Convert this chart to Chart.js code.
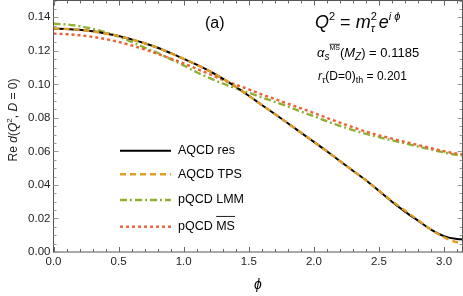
<!DOCTYPE html>
<html>
<head>
<meta charset="utf-8">
<script src="https://cdn.jsdelivr.net/npm/chart.js@4/dist/chart.umd.min.js"></script>
<style>
  html, body { margin: 0; padding: 0; background: #fff; }
  #wrap { width: 463px; height: 296px; position: relative; }
</style>
</head>
<body>
<div id="wrap"><canvas id="c" width="463" height="296"></canvas></div>
<script>
// ---- data ----
const phi = [0.0, 0.1, 0.2, 0.3, 0.4, 0.5, 0.6, 0.7, 0.8, 0.9, 1.0, 1.1, 1.2, 1.3, 1.4, 1.5,
             1.6, 1.7, 1.8, 1.9, 2.0, 2.1, 2.2, 2.3, 2.4, 2.5, 2.6, 2.7, 2.8, 2.9, 3.0, 3.1, 3.1416];

const aqcdRes = [0.1332, 0.1330, 0.1325, 0.1316, 0.1303, 0.1288, 0.1268, 0.1245, 0.1218, 0.1186,
                 0.1152, 0.1117, 0.1078, 0.1034, 0.0985, 0.0932, 0.0877, 0.0823, 0.0768, 0.0712,
                 0.0657, 0.0601, 0.0543, 0.0485, 0.0428, 0.0364, 0.0300, 0.0241, 0.0187, 0.0134,
                 0.0095, 0.0077, 0.0075];

const aqcdTPS = [0.1332, 0.1330, 0.1325, 0.1316, 0.1303, 0.1288, 0.1268, 0.1245, 0.1218, 0.1186,
                 0.1152, 0.1117, 0.1078, 0.1034, 0.0985, 0.0932, 0.0877, 0.0823, 0.0768, 0.0712,
                 0.0657, 0.0601, 0.0543, 0.0485, 0.0428, 0.0365, 0.0304, 0.0247, 0.0190, 0.0133,
                 0.0088, 0.0058, 0.0054];

const pqcdLMM = [0.1361, 0.1357, 0.1347, 0.1331, 0.1311, 0.1285, 0.1253, 0.1219, 0.1187, 0.1150,
                 0.1113, 0.1072, 0.1037, 0.1005, 0.0976, 0.0950, 0.0922, 0.0895, 0.0868, 0.0838,
                 0.0810, 0.0780, 0.0752, 0.0727, 0.0705, 0.0685, 0.0666, 0.0648, 0.0629, 0.0611,
                 0.0594, 0.0579, 0.0576];

const pqcdMSbar = [0.1302, 0.1299, 0.1293, 0.1283, 0.1270, 0.1253, 0.1232, 0.1208, 0.1182, 0.1154,
                   0.1125, 0.1093, 0.1060, 0.1027, 0.0998, 0.0970, 0.0940, 0.0912, 0.0885, 0.0857,
                   0.0829, 0.0800, 0.0771, 0.0744, 0.0718, 0.0696, 0.0676, 0.0657, 0.0638, 0.0619,
                   0.0601, 0.0586, 0.0582];

const seriesNames = ["AQCD res", "AQCD TPS", "pQCD LMM", "pQCD MS"];
const xTickValues = [0.0, 0.5, 1.0, 1.5, 2.0, 2.5, 3.0];
const xTickLabels = ["0.0", "0.5", "1.0", "1.5", "2.0", "2.5", "3.0"];
const yTickValues = [0.00, 0.02, 0.04, 0.06, 0.08, 0.10, 0.12, 0.14];
const yTickLabels = ["0.00", "0.02", "0.04", "0.06", "0.08", "0.10", "0.12", "0.14"];

// ---- helpers ----
const FONT = '"Liberation Sans", Arial, Helvetica, sans-serif';
const PHI = '\u03D5';
function pts(ys) { return phi.map((x, i) => ({ x: x, y: ys[i] })); }

// draw rich text segments: {t, it, size, dy, over}
function rich(ctx, x, y, segs, baseSize) {
  let cx = x;
  for (const s of segs) {
    const sz = s.size || baseSize;
    ctx.font = (s.it ? 'italic ' : '') + sz + 'px ' + FONT;
    const w = ctx.measureText(s.t).width;
    ctx.fillText(s.t, cx, y + (s.dy || 0));
    if (s.over) {
      ctx.save();
      ctx.lineWidth = Math.max(0.8, sz / 14);
      ctx.strokeStyle = ctx.fillStyle;
      const oy = y + (s.dy || 0) - sz * 0.82;
      ctx.beginPath(); ctx.moveTo(cx, oy); ctx.lineTo(cx + w, oy); ctx.stroke();
      ctx.restore();
    }
    cx += w + (s.gap || 0);
  }
  return cx;
}

const styles = [
  { color: '#000000', dash: [], width: 2.0 },
  { color: '#E19C24', dash: [6, 4], width: 2.4 },
  { color: '#8FB032', dash: [7, 3, 2, 3], width: 2.4 },
  { color: '#EB6235', dash: [3, 3], width: 2.4 }
];

const framePlugin = {
  id: 'frame',
  afterDraw(chart) {
    const ctx = chart.ctx;
    const a = chart.chartArea;
    const xs = chart.scales.x, ys = chart.scales.y;
    ctx.save();
    // frame
    ctx.strokeStyle = '#555';
    ctx.lineWidth = 1;
    ctx.strokeRect(a.left, a.top, a.right - a.left, a.bottom - a.top);
    // x ticks (bottom & top)
    ctx.strokeStyle = '#666';
    for (let i = 0; i <= 31; i++) {
      const v = i / 10;
      const px = Math.round(xs.getPixelForValue(v)) + 0.5;
      const len = (i % 5 === 0) ? 5 : 3;
      ctx.beginPath();
      ctx.moveTo(px, a.bottom); ctx.lineTo(px, a.bottom - len);
      ctx.moveTo(px, a.top); ctx.lineTo(px, a.top + len);
      ctx.stroke();
    }
    // y ticks (left & right)
    ctx.strokeStyle = '#999';
    for (let i = 0; i <= 30; i++) {
      const v = i * 0.005;
      const py = Math.round(ys.getPixelForValue(v)) + 0.5;
      const len = (i % 4 === 0) ? 5 : 3;
      ctx.beginPath();
      ctx.moveTo(a.left, py); ctx.lineTo(a.left + len, py);
      ctx.moveTo(a.right, py); ctx.lineTo(a.right - len, py);
      ctx.stroke();
    }
    ctx.restore();

    // y-axis title (rotated)
    ctx.save();
    ctx.fillStyle = '#222';
    ctx.textBaseline = 'alphabetic';
    ctx.translate(17, 120);
    ctx.rotate(-Math.PI / 2);
    const ysegs = [
      { t: 'Re ' }, { t: 'd', it: true }, { t: '(' }, { t: 'Q', it: true },
      { t: '2', size: 8, dy: -5 }, { t: ', ' }, { t: 'D', it: true }, { t: ' = 0)' }
    ];
    let tw = 0;
    for (const s of ysegs) { ctx.font = (s.it ? 'italic ' : '') + (s.size || 12) + 'px ' + FONT; tw += ctx.measureText(s.t).width; }
    rich(ctx, -tw / 2, 0, ysegs, 12);
    ctx.restore();

    // annotations
    ctx.save();
    ctx.fillStyle = '#000';
    ctx.textBaseline = 'alphabetic';
    ctx.font = '16px ' + FONT;
    ctx.fillText('(a)', 205, 28);
    rich(ctx, 315, 28, [
      { t: 'Q', it: true }, { t: '2', size: 11, dy: -8 }, { t: ' = ' },
      { t: 'm', it: true }, { t: '2', size: 11, dy: -8, gap: -6 }, { t: 'τ', it: true, size: 11, dy: 4, gap: 4 },
      { t: 'e', it: true }, { t: 'i ' + PHI, it: true, size: 11, dy: -8 }
    ], 18);
    rich(ctx, 317, 57, [
      { t: 'α', it: true }, { t: 's', it: true, size: 10, dy: 3 },
      { t: 'MS', size: 7, dy: -7, over: true },
      { t: '(' }, { t: 'M', it: true }, { t: 'Z', it: true, size: 10, dy: 3 }, { t: ') = 0.1185' }
    ], 13);
    rich(ctx, 318, 80, [
      { t: 'r', it: true }, { t: 'τ', it: true, size: 9, dy: 3 },
      { t: '(D=0)' }, { t: 'th', size: 9, dy: 3 }, { t: ' = 0.201' }
    ], 12);
    ctx.restore();

    // legend
    ctx.save();
    const rowsY = [150.7, 174.3, 200, 226.7];
    for (let i = 0; i < 4; i++) {
      const st = styles[i];
      ctx.strokeStyle = st.color;
      ctx.lineWidth = st.width;
      ctx.setLineDash(st.dash);
      ctx.beginPath(); ctx.moveTo(120, rowsY[i]); ctx.lineTo(171, rowsY[i]); ctx.stroke();
      ctx.setLineDash([]);
      ctx.fillStyle = '#000';
      ctx.textBaseline = 'middle';
      if (i < 3) {
        ctx.font = '12.5px ' + FONT;
        ctx.fillText(seriesNames[i], 178, rowsY[i]);
      } else {
        rich(ctx, 178, rowsY[i], [{ t: 'pQCD ' }, { t: 'MS', over: true }], 12.5);
      }
    }
    ctx.restore();
  }
};

const datasets = [
  { label: seriesNames[0], data: pts(aqcdRes), order: 1 },
  { label: seriesNames[1], data: pts(aqcdTPS), order: 0 },
  { label: seriesNames[2], data: pts(pqcdLMM), order: 3 },
  { label: seriesNames[3], data: pts(pqcdMSbar), order: 2 }
].map((d, i) => Object.assign(d, {
  borderColor: styles[i].color,
  borderWidth: styles[i].width,
  borderDash: styles[i].dash,
  pointRadius: 0,
  fill: false,
  cubicInterpolationMode: 'monotone',
  borderCapStyle: 'butt'
}));

new Chart(document.getElementById('c'), {
  type: 'line',
  data: { datasets },
  options: {
    responsive: false,
    animation: false,
    devicePixelRatio: 1,
    layout: { padding: { left: 0, right: 0.5, top: 0.5, bottom: 0 } },
    plugins: { legend: { display: false }, tooltip: { enabled: false } },
    scales: {
      x: {
        type: 'linear', min: 0, max: 3.1416,
        grid: { display: false, drawTicks: false },
        border: { display: false },
        ticks: {
          padding: 3, color: '#222', autoSkip: false, maxRotation: 0,
          font: { family: FONT, size: 11.5 },
          callback: (v) => { const k = xTickValues.findIndex(t => Math.abs(t - v) < 1e-6); return k >= 0 ? xTickLabels[k] : ''; }
        },
        afterBuildTicks: (s) => { s.ticks = xTickValues.map(v => ({ value: v })); },
        title: { display: true, text: PHI, color: '#000', font: { family: FONT, size: 14, style: 'italic' }, padding: { top: 4, bottom: 2 } },
        afterFit: (s) => { s.height = 44; s.paddingLeft = 0; s.paddingRight = 0; }
      },
      y: {
        type: 'linear', min: 0, max: 0.15,
        grid: { display: false, drawTicks: false },
        border: { display: false },
        ticks: {
          padding: 3, color: '#222', autoSkip: false,
          font: { family: FONT, size: 11.5 },
          callback: (v) => { const k = yTickValues.findIndex(t => Math.abs(t - v) < 1e-6); return k >= 0 ? yTickLabels[k] : ''; }
        },
        afterBuildTicks: (s) => { s.ticks = yTickValues.map(v => ({ value: v })); },
        afterFit: (s) => { s.width = 53.5; s.paddingTop = 0; s.paddingBottom = 0; }
      }
    }
  },
  plugins: [framePlugin]
});
</script>
</body>
</html>
